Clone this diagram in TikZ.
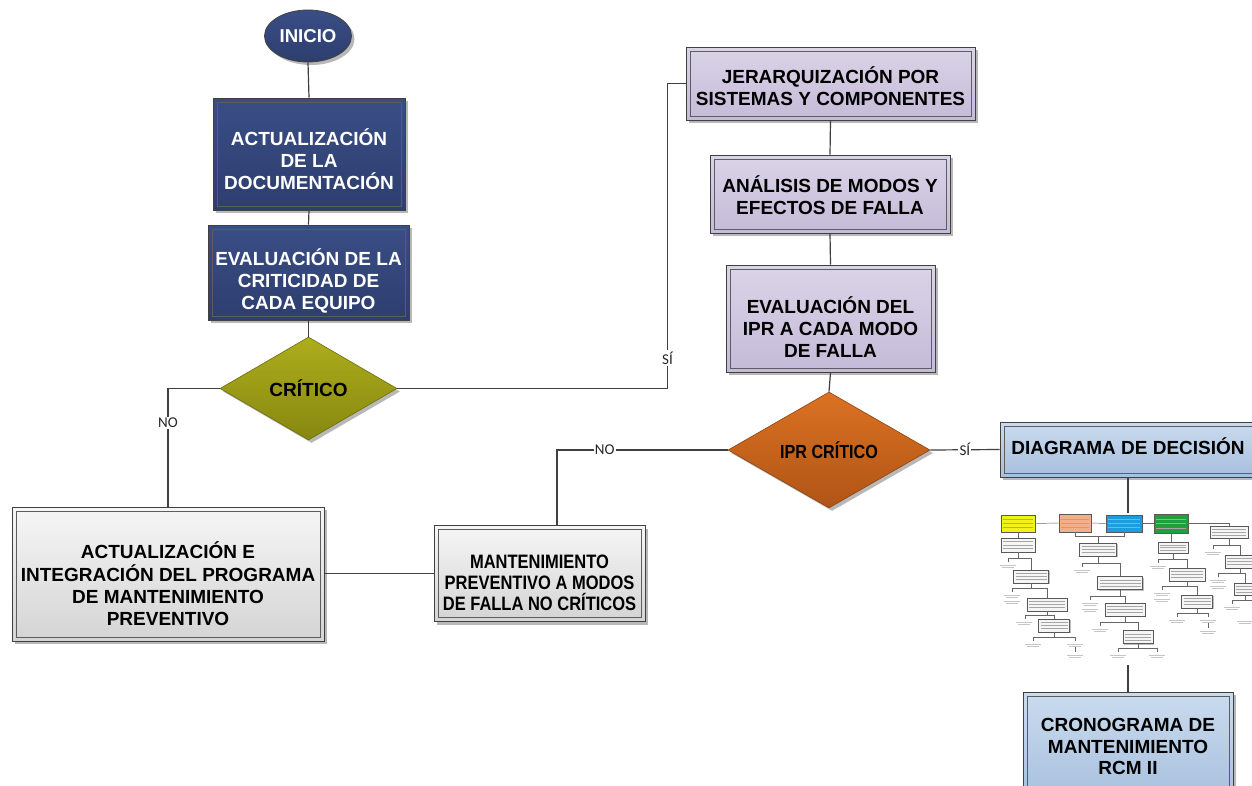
\documentclass[tikz,border=0pt]{standalone}
\usepackage{fontspec}
\setmainfont{Liberation Sans}
\newfontfamily\lblfont{Carlito}
\newfontfamily\narrowfont[FakeStretch=0.85]{Liberation Sans}
\usetikzlibrary{shapes.geometric,shadows,calc}
\definecolor{edge}{HTML}{404040}
\definecolor{navyT}{HTML}{3A4E86}
\definecolor{navyB}{HTML}{2D3E6E}
\definecolor{oliveT}{HTML}{ADAD1C}
\definecolor{oliveB}{HTML}{878710}
\definecolor{orangeT}{HTML}{DB7222}
\definecolor{orangeB}{HTML}{B05416}
\definecolor{lavT}{HTML}{DAD4E7}
\definecolor{lavB}{HTML}{C4BBD8}
\definecolor{grayT}{HTML}{F6F6F6}
\definecolor{grayB}{HTML}{D4D4D4}
\definecolor{blueT}{HTML}{CADBEE}
\definecolor{blueB}{HTML}{A6BFDD}
\definecolor{myellow}{HTML}{F2F21A}
\definecolor{morange}{HTML}{F2B088}
\definecolor{mblue}{HTML}{1E9CE0}
\definecolor{mgreen}{HTML}{1FA03C}
\newcommand\mtxt[2]{\fill[gray!45] ({#1-8},{#2-1.4}) rectangle ({#1+8},{#2-0.4});
  \fill[gray!45] ({#1-6},{#2+1}) rectangle ({#1+6},{#2+2});}
\newcommand\mbranch[5]{% parent, bar y, left x, left y, right node
  \draw[mline] (#1.south) -- (#1.south |- 0,#2);
  \draw[mline] (#3,#4) |- (#5.north |- 0,#2) -- (#5.north);}
\begin{document}
\begin{tikzpicture}[x=1pt,y=-1pt,
  conn/.style={draw=edge, line width=1.2pt},
  mline/.style={draw=gray!80!black, line width=0.45pt},
  lbl/.style={fill=white, inner sep=1.2pt, font=\lblfont\fontsize{15}{15}\selectfont, text=black!85},
  shad/.style={drop shadow={shadow xshift=3pt,shadow yshift=-3pt,opacity=0.28,fill=black}},
  box/.style={rectangle, draw=edge, line width=0.9pt, inner sep=0pt, shad,
    path picture={\draw[edge!85, line width=0.7pt]
      ([shift={(4pt,-4pt)}]path picture bounding box.north west) rectangle
      ([shift={(-4pt,4pt)}]path picture bounding box.south east);}},
  tx/.style={align=center, inner sep=0pt, font=\bfseries\fontsize{19}{21.7}\selectfont},
  txs/.style={align=center, inner sep=0pt, font=\narrowfont\bfseries\fontsize{19.4}{20.8}\selectfont},
  navy/.style={box, top color=navyT, bottom color=navyB},
  lav/.style={box, top color=lavT, bottom color=lavB},
  grey/.style={box, top color=grayT, bottom color=grayB},
  lblue/.style={box, top color=blueT, bottom color=blueB},
  dia/.style={diamond, inner sep=0pt, shad, text=black, line width=0.6pt},
  minib/.style={rectangle, draw=gray!70!black, line width=0.4pt, fill=gray!8, inner sep=0pt,
    drop shadow={shadow xshift=1pt,shadow yshift=-1pt,opacity=0.25,fill=black},
    path picture={\foreach \f in {0.28,0.52,0.76}{\draw[black!35, line width=0.9pt]
      ($(path picture bounding box.north west)!\f!(path picture bounding box.south west)+(2pt,0)$) --
      ($(path picture bounding box.north east)!\f!(path picture bounding box.south east)+(-2pt,0)$);}}}
]
\clip (0,0) rectangle (1252,785);
\fill[white] (0,0) rectangle (1252,785);

% ---------- left column ----------
\node[ellipse, draw=edge, line width=0.8pt, top color=navyT, bottom color=navyB, text=white,
  minimum width=87pt, minimum height=52pt, inner sep=0pt, shad,
  font=\bfseries\fontsize{18.6}{20}\selectfont] (ini) at (308,36) {INICIO};
\node[navy, minimum width=192pt, minimum height=112pt] (doc) at (309,154) {};
\node[tx, text=white] (docT) at (309,159) {ACTUALIZACIÓN\\DE LA\\DOCUMENTACIÓN};
\node[navy, minimum width=201pt, minimum height=95pt] (cri) at (308.5,272.5) {};
\node[tx, text=white] (criT) at (308.5,281) {EVALUACIÓN DE LA\\CRITICIDAD DE\\CADA EQUIPO};
\node[dia, top color=oliveT, bottom color=oliveB, draw=oliveB!80!black,
  font=\bfseries\fontsize{19}{21}\selectfont,
  minimum width=177pt, minimum height=103pt] (crit) at (308.5,388.5) {CRÍTICO};
\node[grey, minimum width=312pt, minimum height=134pt] (prog) at (168,574) {};
\node[tx, font=\bfseries\fontsize{19}{22.3}\selectfont] (progT) at (168,584)
  {ACTUALIZACIÓN E\\INTEGRACIÓN DEL PROGRAMA\\DE MANTENIMIENTO\\PREVENTIVO};
\node[grey, minimum width=211pt, minimum height=96pt] (mpnc) at (539.5,573.5) {};
\node[txs] (mpncT) at (539.5,583) {MANTENIMIENTO\\PREVENTIVO A MODOS\\DE FALLA NO CRÍTICOS};

% ---------- right column ----------
\node[lav, minimum width=289pt, minimum height=73pt] (jer) at (830.5,83.5) {};
\node[tx] (jerT) at (830.5,86) {JERARQUIZACIÓN POR\\SISTEMAS Y COMPONENTES};
\node[lav, minimum width=240pt, minimum height=78pt] (amef) at (830,194) {};
\node[tx] (amefT) at (830,195.5) {ANÁLISIS DE MODOS Y\\EFECTOS DE FALLA};
\node[lav, minimum width=209pt, minimum height=107pt] (ipr) at (830.5,318.5) {};
\node[tx] (iprT) at (830.5,327) {EVALUACIÓN DEL\\IPR A CADA MODO\\DE FALLA};
\node[dia, top color=orangeT, bottom color=orangeB, draw=orangeB!80!black,
  font=\narrowfont\bfseries\fontsize{19}{21}\selectfont,
  minimum width=202pt, minimum height=116pt] (iprc) at (829,450) {IPR CRÍTICO};
\node[lblue, minimum width=256pt, minimum height=55pt] (dd) at (1128,449.5) {};
\node[tx] (ddT) at (1128,446) {DIAGRAMA DE DECISIÓN};
\node[lblue, minimum width=210pt, minimum height=112pt] (crono) at (1128,748) {};
\node[tx] (cronoT) at (1128,746.5) {CRONOGRAMA DE\\MANTENIMIENTO\\RCM II};

% ---------- main connectors ----------
\draw[conn] (ini.south) -- (doc.north);
\draw[conn] (doc.south) -- (cri.north);
\draw[conn] (cri.south) -- (crit.north);
\draw[conn] (crit.west) -| node[lbl, pos=0.645] {NO} (prog.north);
\draw[conn] (crit.east) -| node[lbl, pos=0.55] {SÍ} ([xshift=-18pt]jer.west) -- (jer.west);
\draw[conn] (jer.south) -- (amef.north);
\draw[conn] (amef.south) -- (ipr.north);
\draw[conn] (ipr.south) -- (iprc.north);
\draw[conn] (iprc.west) -| node[lbl, pos=0.36] {NO} ([xshift=17.5pt]mpnc.north);
\draw[conn] (prog.east |- mpnc.west) -- (mpnc.west);
\draw[conn] (iprc.east) -- node[lbl] {SÍ} (dd.west);

% ---------- miniature decision diagram ----------
\node[minib, fill=myellow, minimum width=34pt, minimum height=17pt] (my) at (1018,523.5) {};
\node[minib, fill=morange, minimum width=32pt, minimum height=18pt] (mo) at (1075,523) {};
\node[minib, fill=mblue, minimum width=36pt, minimum height=17pt] (mb) at (1124,523.5) {};
\node[minib, fill=mgreen, minimum width=34pt, minimum height=19pt] (mg) at (1171,523.5) {};
\node[minib, minimum width=38pt, minimum height=12pt] (n1) at (1229,532) {};
\draw[mline] (my.east) -- (mo.west);
\draw[mline] (mo.east) -- (mb.west);
\draw[mline] (mb.east) -- (mg.west);
\draw[mline] (mg.east) -| (n1.north);
% H column
\node[minib, minimum width=34pt, minimum height=14pt] (h1) at (1018,545) {};
\node[minib, minimum width=35pt, minimum height=13pt] (h2) at (1031,576.5) {};
\node[minib, minimum width=40pt, minimum height=13pt] (h3) at (1047,604.5) {};
\node[minib, minimum width=31pt, minimum height=13pt] (h4) at (1054,625.5) {};
\draw[mline] (my.south) -- (h1.north);
\mbranch{h1}{558}{1008}{562}{h2}
\mbranch{h2}{588}{1012}{592}{h3}
\mbranch{h3}{615}{1025}{619}{h4}
\draw[mline] (h4.south) -- (1054,637);
\draw[mline] (1033,641) |- (1075,637) -- (1075,641);
\draw[mline] (1075,647) -- (1075,652);
\mtxt{1008}{566}\mtxt{1012}{596}\mtxt{1012}{602}\mtxt{1024}{623}
\mtxt{1033}{645}\mtxt{1075}{645}\mtxt{1075}{656}
% S column
\node[minib, minimum width=37pt, minimum height=13pt] (s1) at (1098,549.5) {};
\node[minib, minimum width=45pt, minimum height=13pt] (s2) at (1120,583) {};
\node[minib, minimum width=40pt, minimum height=13pt] (s3) at (1125,609.5) {};
\node[minib, minimum width=30pt, minimum height=13pt] (s4) at (1138,637) {};
\draw[mline] (mo.south) |- (1098,536) -| (mb.south);
\draw[mline] (1098,536) -- (s1.north);
\mbranch{s1}{563}{1082}{567}{s2}
\mbranch{s2}{596}{1090}{600}{s3}
\mbranch{s3}{622}{1100}{626}{s4}
\draw[mline] (s4.south) -- (1138,648);
\draw[mline] (1118,652) |- (1157,648) -- (1157,652);
\mtxt{1082}{571}\mtxt{1090}{604}\mtxt{1090}{610}\mtxt{1100}{630}
\mtxt{1118}{656}\mtxt{1157}{656}
% G column
\node[minib, minimum width=30pt, minimum height=11pt] (o1) at (1173,547.5) {};
\node[minib, minimum width=36pt, minimum height=13pt] (o2) at (1187,574.5) {};
\node[minib, minimum width=31pt, minimum height=13pt] (o3) at (1197,601.5) {};
\draw[mline] (mg.south) -- (mg.south |- o1.north);
\mbranch{o1}{559}{1158}{563}{o2}
\mbranch{o2}{586}{1162}{590}{o3}
\draw[mline] (o3.south) -- (1197,613);
\draw[mline] (1177,617) |- (1208,613) -- (1208,617);
\draw[mline] (1208,623) -- (1208,628);
\mtxt{1158}{567}\mtxt{1162}{594}\mtxt{1162}{600}\mtxt{1177}{621}\mtxt{1208}{621}\mtxt{1208}{632}
% N column
\node[minib, minimum width=30pt, minimum height=13pt] (n2) at (1240,561.5) {};
\node[minib, minimum width=22pt, minimum height=12pt] (n3) at (1245,589) {};
\mbranch{n1}{545}{1213}{549}{n2}
\mbranch{n2}{573}{1218}{577}{n3}
\draw[mline] (n3.south) -- (1245,600);
\draw[mline] (1232,604) |- (1252,600);
\mtxt{1213}{553}\mtxt{1218}{581}\mtxt{1218}{587}\mtxt{1232}{608}\mtxt{1245}{622}

% links to/from the miniature
\coordinate (mtop) at (1128,513);
\coordinate (mend) at (1128,665);
\draw[conn] (dd.south) -- (mtop);
\draw[conn] (mend) -- (crono.north);
\end{tikzpicture}
\end{document}
